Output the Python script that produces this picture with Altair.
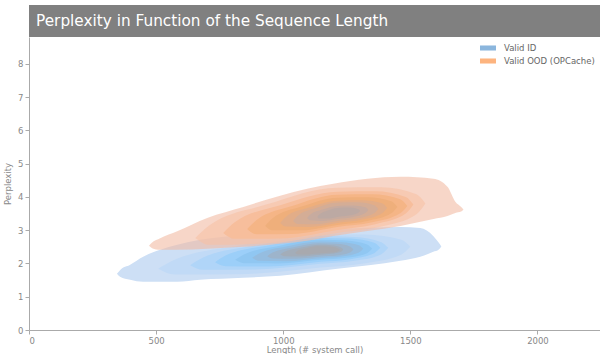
import altair as alt
import pandas as pd

TITLE = "Perplexity in Function of the Sequence Length"
X_TITLE = "Length (# system call)"
Y_TITLE = "Perplexity"
X_TICKS = [0, 500, 1000, 1500, 2000]
Y_TICKS = [0, 1, 2, 3, 4, 5, 6, 7, 8]
SERIES = ["Valid ID", "Valid OOD (OPCache)"]
SERIES_MODE_X = [1146, 1213]
SERIES_MODE_Y = [2.41, 3.54]

# KDE contour levels: (length, lower perplexity, upper perplexity)
ID_1 = [(346, 1.69, 1.69), (358, 1.60, 1.80), (398, 1.51, 1.96), (449, 1.45, 2.20), (516, 1.45, 2.41),
        (583, 1.45, 2.56), (673, 1.51, 2.71), (843, 1.57, 2.86), (988, 1.63, 2.95),
        (1213, 1.84, 3.04), (1461, 2.08, 3.10), (1539, 2.20, 3.07), (1590, 2.35, 2.83),
        (1612, 2.42, 2.62), (1622, 2.51, 2.51)]
ID_2 = [(508, 1.84, 1.84), (572, 1.67, 2.11), (827, 1.68, 2.54), (1146, 1.88, 2.88),
        (1323, 2.01, 2.87), (1465, 2.27, 2.71), (1500, 2.50, 2.50)]
ID_3 = [(634, 1.95, 1.95), (685, 1.81, 2.18), (890, 1.82, 2.54), (1146, 1.99, 2.83),
        (1280, 2.08, 2.80), (1386, 2.28, 2.64), (1413, 2.47, 2.47)]
ID_4 = [(732, 2.04, 2.04), (773, 1.92, 2.24), (939, 1.91, 2.54), (1146, 2.05, 2.77),
        (1264, 2.13, 2.75), (1358, 2.31, 2.62), (1382, 2.47, 2.47)]
ID_5 = [(811, 2.11, 2.11), (845, 2.01, 2.27), (978, 2.00, 2.52), (1146, 2.11, 2.71),
        (1248, 2.17, 2.69), (1330, 2.31, 2.57), (1350, 2.44, 2.44)]
ID_6 = [(878, 2.17, 2.17), (905, 2.08, 2.30), (1012, 2.07, 2.51), (1146, 2.16, 2.66),
        (1230, 2.21, 2.64), (1298, 2.33, 2.55), (1315, 2.44, 2.44)]
ID_7 = [(937, 2.22, 2.22), (958, 2.15, 2.33), (1041, 2.14, 2.49), (1146, 2.21, 2.61),
        (1211, 2.24, 2.59), (1263, 2.33, 2.51), (1276, 2.42, 2.42)]
ID_8 = [(988, 2.27, 2.27), (1004, 2.22, 2.35), (1067, 2.21, 2.47), (1146, 2.26, 2.56),
        (1191, 2.29, 2.55), (1227, 2.35, 2.48), (1236, 2.42, 2.42)]
ID_9 = [(1047, 2.32, 2.32), (1056, 2.28, 2.38), (1091, 2.27, 2.46), (1134, 2.30, 2.52),
        (1179, 2.32, 2.51), (1215, 2.36, 2.46), (1224, 2.41, 2.41)]

OOD_1 = [(472, 2.53, 2.53), (484, 2.46, 2.63), (516, 2.41, 2.76), (583, 2.41, 2.97), (701, 2.44, 3.37),
         (843, 2.50, 3.70), (988, 2.59, 4.04), (1094, 2.68, 4.25), (1197, 2.83, 4.40),
         (1331, 2.98, 4.55), (1461, 3.13, 4.61), (1591, 3.34, 4.55), (1646, 3.43, 4.31),
         (1677, 3.52, 3.86), (1700, 3.56, 3.70), (1709, 3.62, 3.62)]
OOD_2 = [(654, 2.77, 2.77), (710, 2.56, 3.15), (933, 2.60, 3.77), (1213, 2.92, 4.28),
         (1386, 3.11, 4.29), (1524, 3.48, 4.08), (1559, 3.80, 3.80)]
OOD_3 = [(764, 2.92, 2.92), (809, 2.74, 3.24), (988, 2.75, 3.75), (1213, 3.01, 4.16),
         (1362, 3.18, 4.17), (1482, 3.50, 4.00), (1512, 3.77, 3.77)]
OOD_4 = [(858, 3.04, 3.04), (894, 2.88, 3.30), (1035, 2.89, 3.73), (1213, 3.10, 4.07),
         (1350, 3.24, 4.08), (1460, 3.51, 3.93), (1488, 3.73, 3.73)]
OOD_5 = [(929, 3.13, 3.13), (957, 3.00, 3.35), (1071, 3.00, 3.71), (1213, 3.16, 3.98),
         (1331, 3.28, 3.99), (1425, 3.51, 3.87), (1449, 3.70, 3.70)]
OOD_6 = [(988, 3.22, 3.22), (1010, 3.11, 3.40), (1100, 3.10, 3.68), (1213, 3.22, 3.89),
         (1311, 3.32, 3.90), (1389, 3.51, 3.81), (1409, 3.67, 3.67)]
OOD_7 = [(1039, 3.28, 3.28), (1056, 3.19, 3.43), (1126, 3.18, 3.66), (1213, 3.28, 3.83),
         (1294, 3.36, 3.84), (1358, 3.51, 3.75), (1374, 3.64, 3.64)]
OOD_8 = [(1094, 3.37, 3.37), (1106, 3.30, 3.47), (1154, 3.28, 3.62), (1213, 3.34, 3.73),
         (1274, 3.40, 3.74), (1323, 3.52, 3.69), (1335, 3.61, 3.61)]
OOD_9 = [(1134, 3.40, 3.40), (1142, 3.35, 3.47), (1174, 3.35, 3.59), (1213, 3.40, 3.67),
         (1258, 3.44, 3.68), (1294, 3.52, 3.64), (1303, 3.58, 3.58)]

ID_LEVELS = [ID_1, ID_2, ID_3, ID_4, ID_5, ID_6, ID_7, ID_8, ID_9]
OOD_LEVELS = [OOD_1, OOD_2, OOD_3, OOD_4, OOD_5, OOD_6, OOD_7, OOD_8, OOD_9]

# styles
ID_FILLS = ["#cddff5", "#c1daf6", "#b0d5f8", "#9ccff9", "#90c7f2", "#95bde0", "#9db4cb", "#a3adb9", "#a8a9ae"]
ID_ALPHA = [1, 1, 1, 1, 1, 1, 1, 1, 1]
OOD_FILLS = ["#f2bba3", "#f7c2a5", "#f7be9c", "#f5b586", "#efaf7b", "#e2ad88", "#d4ad96", "#c7ab9f", "#bca9a3"]
OOD_ALPHA = [0.6, 0.6, 1, 1, 1, 1, 1, 1, 1]
LEGEND_COLORS = ["#8bb6dd", "#fdb47f"]

FONT = "DejaVu Sans"
W, H = 571, 293

xenc = alt.X("x:Q", scale=alt.Scale(domain=[0, 2246], nice=False, zero=False),
             axis=alt.Axis(values=X_TICKS, format="d", title=X_TITLE, labelPadding=2, titlePadding=1))
yenc = alt.Y("lo:Q", stack=None, scale=alt.Scale(domain=[0, 8.81], nice=False),
             axis=alt.Axis(values=Y_TICKS, format="d", title=Y_TITLE, labelPadding=2, titlePadding=5))

layers = []
for levels, fills, alphas in [(ID_LEVELS, ID_FILLS, ID_ALPHA), (OOD_LEVELS, OOD_FILLS, OOD_ALPHA)]:
    for pts, fill, a in zip(levels, fills, alphas):
        df = pd.DataFrame(pts, columns=["x", "lo", "hi"])
        layers.append(
            alt.Chart(df).mark_area(interpolate="monotone", color=fill, opacity=a, strokeWidth=0)
            .encode(x=xenc, y=yenc, y2="hi:Q")
        )

leg_df = pd.DataFrame({"series": SERIES, "x": SERIES_MODE_X, "lo": SERIES_MODE_Y})
legend_layer = alt.Chart(leg_df).mark_point(filled=True, opacity=0).encode(
    x=xenc, y=yenc,
    color=alt.Color("series:N", scale=alt.Scale(domain=SERIES, range=LEGEND_COLORS),
                    legend=alt.Legend(title=None, orient="top-right", offset=5, padding=0,
                                      symbolType="M-1.33,-0.42L1.33,-0.42L1.33,0.42L-1.33,0.42Z",
                                      symbolSize=144, symbolOpacity=1, symbolStrokeWidth=0,
                                      labelFont=FONT, labelFontSize=8.5, labelColor="#666666",
                                      labelOffset=10, rowPadding=2))
)

tdf = pd.DataFrame({"title": [TITLE]})
band = alt.Chart(tdf).mark_rect(color="#808080").encode(
    x=alt.value(0), x2=alt.value(W), y=alt.value(-32), y2=alt.value(0))
ttext = alt.Chart(tdf).mark_text(align="left", baseline="middle", color="#ffffff",
                                 fontSize=15.3, font=FONT).encode(
    x=alt.value(7), y=alt.value(-16), text="title:N")

chart = alt.layer(*layers, legend_layer, band, ttext).properties(
    width=W, height=H,
    padding={"left": 29, "top": 37, "right": 0, "bottom": 24},
    autosize=alt.AutoSizeParams(type="none"),
).configure_view(stroke=None).configure_axis(
    labelFont=FONT, titleFont=FONT, labelFontSize=8.5, titleFontSize=8.5,
    labelColor="#888888", titleColor="#888888", domainColor="#aaaaaa", tickColor="#aaaaaa",
    grid=False, tickSize=4, titleFontWeight="normal"
)

chart.save("out.html", embed_options={"renderer": "svg", "actions": False})
